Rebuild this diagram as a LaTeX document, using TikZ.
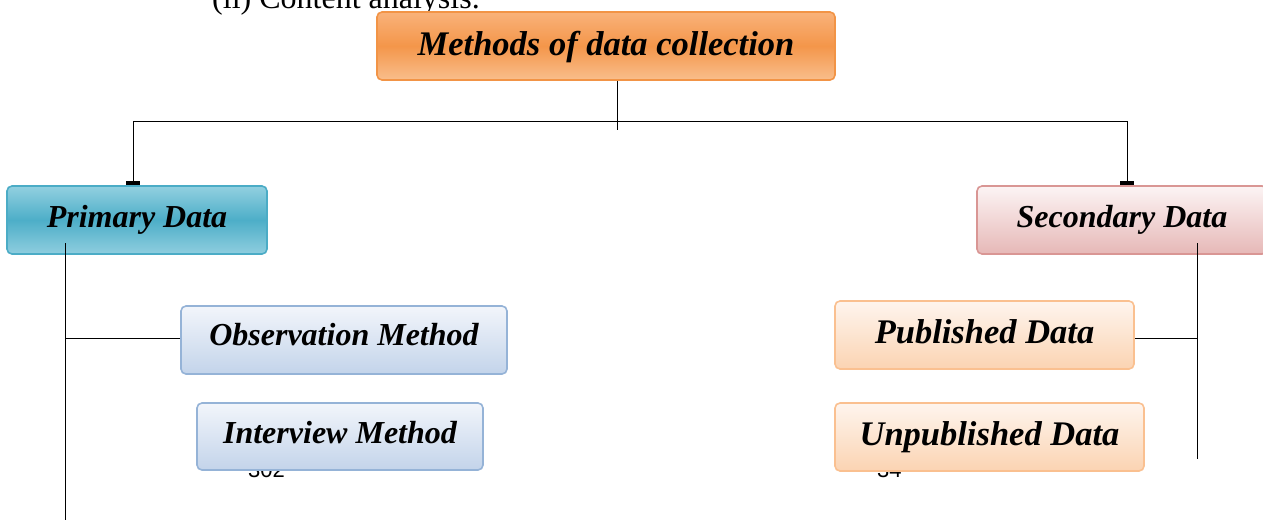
\documentclass[tikz,border=0pt]{standalone}
\usepackage{fontspec}
\setmainfont{Liberation Serif}
\newfontfamily\pagefont{Liberation Sans}
\usetikzlibrary{arrows.meta}
\definecolor{orTop}{HTML}{F9B27A}
\definecolor{orMid}{HTML}{F4964A}
\definecolor{orBot}{HTML}{F9BE8C}
\definecolor{orLine}{HTML}{F29446}
\definecolor{tlTop}{HTML}{92D0E0}
\definecolor{tlMid}{HTML}{4DAEC8}
\definecolor{tlBot}{HTML}{8FCEDF}
\definecolor{tlLine}{HTML}{4BACC6}
\definecolor{pkTop}{HTML}{FCF4F4}
\definecolor{pkBot}{HTML}{E6B8B7}
\definecolor{pkLine}{HTML}{D99694}
\definecolor{blTop}{HTML}{F2F5FB}
\definecolor{blBot}{HTML}{C3D4EA}
\definecolor{blLine}{HTML}{95B3D7}
\definecolor{peTop}{HTML}{FEF5EE}
\definecolor{peBot}{HTML}{FBD3B2}
\definecolor{peLine}{HTML}{FAC090}
\tikzset{
  box/.style={draw, line width=1.6pt, rounded corners=5pt, inner sep=0pt,
    font=\fontsize{32}{32}\selectfont\bfseries\itshape, text=black},
  bigtext/.style={font=\fontsize{34.5}{34.5}\selectfont\bfseries\itshape},
  orangebox/.style={box, draw=orLine, top color=orTop, bottom color=orBot, middle color=orMid},
  tealbox/.style={box, draw=tlLine, top color=tlTop, bottom color=tlBot, middle color=tlMid},
  pinkbox/.style={box, draw=pkLine, top color=pkTop, bottom color=pkBot},
  bluebox/.style={box, draw=blLine, top color=blTop, bottom color=blBot},
  peachbox/.style={box, draw=peLine, top color=peTop, bottom color=peBot},
  link/.style={draw=black, line width=0.9pt},
  bartip/.style={link, -{Rectangle[length=4pt,width=14pt]}},
}
\begin{document}
\begin{tikzpicture}[x=1pt,y=-1pt]
\useasboundingbox (0,0) rectangle (1263,520);
\clip (0,0) rectangle (1263,520);
\fill[white] (0,0) rectangle (1263,520);

% running text and page numbers of the surrounding page
\node[anchor=base west, inner sep=0pt, font=\fontsize{32}{32}\selectfont] (head) at (212,8) {(ii) Content analysis.};
\node[anchor=base west, inner sep=0pt, font=\pagefont\fontsize{22}{22}\selectfont] (pgl) at (248,477) {302};
\node[anchor=base west, inner sep=0pt, font=\pagefont\fontsize{22}{22}\selectfont] (pgr) at (877,477) {34};

% boxes (text height/depth place each baseline inside its box)
\node[orangebox, bigtext, text height=24pt, text depth=6pt, minimum width=458pt, minimum height=68pt] (M) at (606,46) {Methods of data collection};
\node[tealbox, text height=22pt, text depth=8pt, minimum width=260pt, minimum height=68pt] (P) at (137,220) {Primary Data};
\node[pinkbox, text height=22pt, text depth=8pt, minimum width=290pt, minimum height=68pt] (S) at (1122,220) {Secondary Data};
\node[bluebox, text height=20pt, text depth=10pt, minimum width=326pt, minimum height=68pt] (O) at (344,340) {Observation Method};
\node[bluebox, text height=21.5pt, text depth=8.5pt, minimum width=286pt, minimum height=67pt] (I) at (340,436.5) {Interview Method};
\node[peachbox, bigtext, text height=23pt, text depth=7pt, minimum width=299pt, minimum height=68pt] (PD) at (984.5,335) {Published Data};
\node[peachbox, bigtext, text height=23pt, text depth=7pt, minimum width=309pt, minimum height=68pt] (UD) at (989.5,437) {Unpublished Data};

% top-level split
\coordinate (stem) at (617,130);
\coordinate (hl) at (133,121);
\coordinate (hr) at (1127,121);
\draw[link] (M.south -| stem) -- (stem);
\draw[link] (hl) -- (hr);
\draw[bartip] (hl) -- (hl |- P.north);
\draw[bartip] (hr) -- (hr |- S.north);

% primary branch
\coordinate (ptop) at (65,243);
\coordinate (pbot) at (65,520);
\coordinate (pj) at (65,338);
\draw[link] (ptop) -- (pbot);
\draw[link] (pj) -- (pj -| O.west);

% secondary branch
\coordinate (stop) at (1197,243);
\coordinate (sbot) at (1197,459);
\coordinate (sj) at (1197,338);
\draw[link] (stop) -- (sbot);
\draw[link] (sj -| PD.east) -- (sj);
\end{tikzpicture}
\end{document}
